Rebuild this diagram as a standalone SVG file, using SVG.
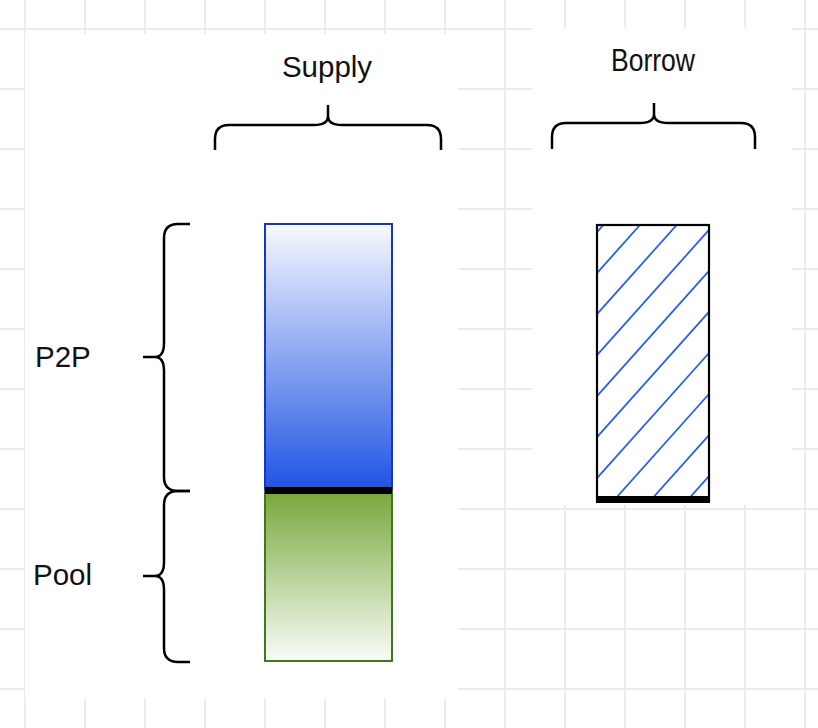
<svg xmlns="http://www.w3.org/2000/svg" width="818" height="728" viewBox="0 0 818 728">
  <style>
    .grid line { stroke: #ececec; stroke-width: 2; }
    .brace { fill: none; stroke: #000; stroke-width: 2.5; stroke-linejoin: round; stroke-linecap: butt; }
    .lbl { font-family: "Liberation Sans", Arial, sans-serif; font-size: 29.5px; fill: #111; }
    .hatch { stroke: #2a5fe6; stroke-width: 1.8; }
  </style>
  <defs>
    <linearGradient id="gBlue" x1="0" y1="0" x2="0" y2="1">
      <stop offset="0" stop-color="#f8f9fe"/>
      <stop offset="1" stop-color="#1f53e3"/>
    </linearGradient>
    <linearGradient id="gGreen" x1="0" y1="0" x2="0" y2="1">
      <stop offset="0" stop-color="#76a83a"/>
      <stop offset="1" stop-color="#fafcf8"/>
    </linearGradient>
    <clipPath id="borrowClip">
      <rect x="597" y="225" width="112" height="275"/>
    </clipPath>
  </defs>

  <rect width="818" height="728" fill="#ffffff"/>
  <g class="grid">
    <line x1="25" y1="0" x2="25" y2="728"/>
    <line x1="85" y1="0" x2="85" y2="728"/>
    <line x1="145" y1="0" x2="145" y2="728"/>
    <line x1="205" y1="0" x2="205" y2="728"/>
    <line x1="265" y1="0" x2="265" y2="728"/>
    <line x1="325" y1="0" x2="325" y2="728"/>
    <line x1="385" y1="0" x2="385" y2="728"/>
    <line x1="445" y1="0" x2="445" y2="728"/>
    <line x1="505" y1="0" x2="505" y2="728"/>
    <line x1="565" y1="0" x2="565" y2="728"/>
    <line x1="625" y1="0" x2="625" y2="728"/>
    <line x1="685" y1="0" x2="685" y2="728"/>
    <line x1="745" y1="0" x2="745" y2="728"/>
    <line x1="805" y1="0" x2="805" y2="728"/>
    <line x1="0" y1="29" x2="818" y2="29"/>
    <line x1="0" y1="89" x2="818" y2="89"/>
    <line x1="0" y1="149" x2="818" y2="149"/>
    <line x1="0" y1="209" x2="818" y2="209"/>
    <line x1="0" y1="269" x2="818" y2="269"/>
    <line x1="0" y1="329" x2="818" y2="329"/>
    <line x1="0" y1="389" x2="818" y2="389"/>
    <line x1="0" y1="449" x2="818" y2="449"/>
    <line x1="0" y1="509" x2="818" y2="509"/>
    <line x1="0" y1="569" x2="818" y2="569"/>
    <line x1="0" y1="629" x2="818" y2="629"/>
    <line x1="0" y1="689" x2="818" y2="689"/>
  </g>
  <!-- white panels over the grid -->
  <rect x="25" y="34" width="433" height="664" fill="#ffffff"/>
  <rect x="532" y="28" width="260" height="477" fill="#ffffff"/>

  <g id="supply-label">
    <text class="lbl" x="327" y="77" text-anchor="middle" style="font-size:29.5px">Supply</text>
  </g>
  <g id="borrow-label">
    <text class="lbl" x="653" y="71" text-anchor="middle" style="font-size:32px" textLength="84" lengthAdjust="spacingAndGlyphs">Borrow</text>
  </g>
  <g id="p2p-label">
    <text class="lbl" x="35" y="367">P2P</text>
  </g>
  <g id="pool-label">
    <text class="lbl" x="33" y="585">Pool</text>
  </g>

  <g id="supply-brace">
    <path class="brace" d="M215,150 L215,139 Q215,125 229,125 L314,125 Q328,125 328,116 M441,150 L441,139 Q441,125 427,125 L342,125 Q328,125 328,116 L328,105"/>
  </g>
  <g id="borrow-brace">
    <path class="brace" d="M552,149 L552,137 Q552,123 566,123 L640,123 Q654,123 654,114 M755,149 L755,137 Q755,123 741,123 L668,123 Q654,123 654,114 L654,103"/>
  </g>
  <g id="p2p-brace">
    <path class="brace" d="M190,224 L178,224 Q164,224 164,238 L164,343 Q164,357 155,357 L143,357 M190,491 L178,491 Q164,491 164,477 L164,371 Q164,357 155,357"/>
  </g>
  <g id="pool-brace">
    <path class="brace" d="M190,491 L178,491 Q164,491 164,505 L164,562 Q164,576 155,576 L143,576 M190,662 L178,662 Q164,662 164,648 L164,590 Q164,576 155,576"/>
  </g>

  <g id="p2p-bar">
    <rect x="265" y="224" width="127" height="266" fill="url(#gBlue)" stroke="#1236cc" stroke-width="2"/>
  </g>
  <g id="pool-bar">
    <rect x="265" y="491" width="127" height="170" fill="url(#gGreen)" stroke="#3d7a1c" stroke-width="2"/>
  </g>
  <g id="supply-divider">
    <rect x="265" y="487" width="127" height="7" fill="#000"/>
  </g>

  <g id="borrow-bar">
    <rect x="597" y="225" width="112" height="275" fill="#ffffff"/>
    <g clip-path="url(#borrowClip)" class="hatch">
      <line x1="603.3" y1="225" x2="357.3" y2="500"/>
      <line x1="640" y1="225" x2="394" y2="500"/>
      <line x1="676.7" y1="225" x2="430.7" y2="500"/>
      <line x1="713.4" y1="225" x2="467.4" y2="500"/>
      <line x1="750.1" y1="225" x2="504.1" y2="500"/>
      <line x1="786.8" y1="225" x2="540.8" y2="500"/>
      <line x1="823.5" y1="225" x2="577.5" y2="500"/>
      <line x1="860.2" y1="225" x2="614.2" y2="500"/>
      <line x1="896.9" y1="225" x2="650.9" y2="500"/>
      <line x1="933.6" y1="225" x2="687.6" y2="500"/>
    </g>
    <rect x="597" y="225" width="112" height="275" fill="none" stroke="#000" stroke-width="2.2"/>
    <rect x="596" y="496" width="114" height="7" fill="#000"/>
  </g>
</svg>
